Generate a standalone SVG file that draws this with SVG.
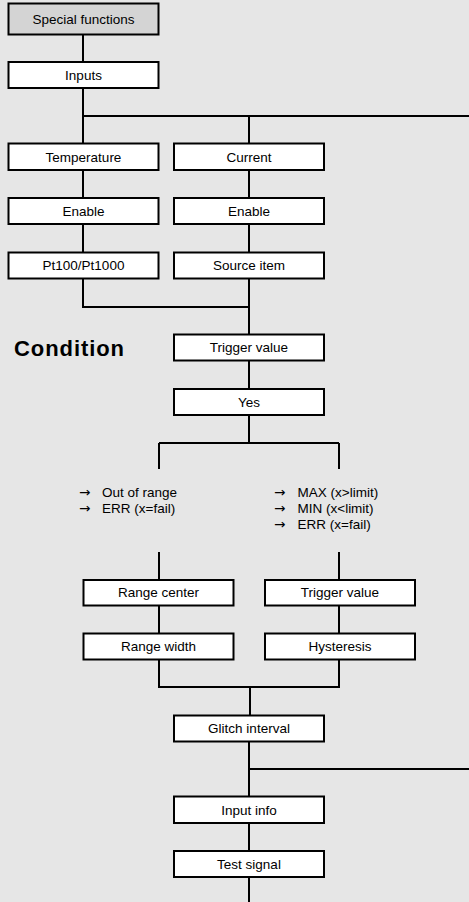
<svg xmlns="http://www.w3.org/2000/svg" width="469" height="902" viewBox="0 0 469 902">
<style>
.bg{fill:#e6e6e6}
.box rect{fill:#ffffff;stroke:#000000;stroke-width:2}
.box.gray rect{fill:#d4d4d4}
.box text,.lbl{font-family:"Liberation Sans",Arial,sans-serif;font-size:13.5px;fill:#000000}
.box text{text-anchor:middle}
.arr{font-family:"DejaVu Sans",sans-serif;font-size:13.5px;fill:#000000}
.cond{font-family:"Liberation Sans",Arial,sans-serif;font-size:22px;font-weight:bold;fill:#000000}
#connectors path{fill:none;stroke:#000000;stroke-width:2}
</style>
<rect class="bg" x="0" y="0" width="469" height="902"/>
<g id="connectors">
<path d="M83 35V143M83 116H469M249 116V143"/>
<path d="M83 170V198M83 224V252M83 278V307H249M249 170V198M249 224V252M249 278V334M249 360V389M249 415V443"/>
<path d="M159 443H339M159 443V469M339 443V469"/>
<path d="M159 552V580M339 552V580M159 606V633M339 606V633M159 659V687H339V659M250 687V715"/>
<path d="M249 741V797M248 769H469M249 823V851M249 877V902"/>
</g>
<g id="n-special" class="box gray"><rect x="8.5" y="3.5" width="150" height="31"/><text x="83.5" y="24">Special functions</text></g>
<g id="n-inputs" class="box"><rect x="8.5" y="62" width="150" height="26"/><text x="83.5" y="80">Inputs</text></g>
<g id="n-temperature" class="box"><rect x="8.5" y="143.5" width="150" height="26.5"/><text x="83.5" y="161.5">Temperature</text></g>
<g id="n-current" class="box"><rect x="174" y="143.5" width="150" height="26.5"/><text x="249" y="161.5">Current</text></g>
<g id="n-enable1" class="box"><rect x="8.5" y="198" width="150" height="26"/><text x="83.5" y="215.5">Enable</text></g>
<g id="n-enable2" class="box"><rect x="174" y="198" width="150" height="26"/><text x="249" y="215.5">Enable</text></g>
<g id="n-pt100" class="box"><rect x="8.5" y="252.5" width="150" height="26"/><text x="83.5" y="270">Pt100/Pt1000</text></g>
<g id="n-source" class="box"><rect x="174" y="252.5" width="150" height="26"/><text x="249" y="270">Source item</text></g>
<text id="t-condition" class="cond" x="14" y="356" textLength="110" lengthAdjust="spacing">Condition</text>
<g id="n-trigger1" class="box"><rect x="174" y="334.5" width="150" height="26"/><text x="249" y="352">Trigger value</text></g>
<g id="n-yes" class="box"><rect x="174" y="389" width="150" height="26"/><text x="249" y="406.5">Yes</text></g>
<g id="t-left">
<text class="arr" x="79" y="497">→</text><text class="lbl" x="102" y="497">Out of range</text>
<text class="arr" x="79" y="513">→</text><text class="lbl" x="102" y="513">ERR (x=fail)</text>
</g>
<g id="t-right">
<text class="arr" x="274" y="497">→</text><text class="lbl" x="297.5" y="497">MAX (x&gt;limit)</text>
<text class="arr" x="274" y="513">→</text><text class="lbl" x="297.5" y="513">MIN (x&lt;limit)</text>
<text class="arr" x="274" y="529">→</text><text class="lbl" x="297.5" y="529">ERR (x=fail)</text>
</g>
<g id="n-rangecenter" class="box"><rect x="83.5" y="580" width="150" height="25.5"/><text x="158.5" y="597">Range center</text></g>
<g id="n-trigger2" class="box"><rect x="265" y="580" width="150" height="25.5"/><text x="340" y="597">Trigger value</text></g>
<g id="n-rangewidth" class="box"><rect x="83.5" y="633.5" width="150" height="26"/><text x="158.5" y="651">Range width</text></g>
<g id="n-hysteresis" class="box"><rect x="265" y="633.5" width="150" height="26"/><text x="340" y="651">Hysteresis</text></g>
<g id="n-glitch" class="box"><rect x="174" y="715.5" width="150" height="26"/><text x="249" y="733">Glitch interval</text></g>
<g id="n-inputinfo" class="box"><rect x="174" y="796.5" width="150" height="26.5"/><text x="249" y="814.5">Input info</text></g>
<g id="n-testsignal" class="box"><rect x="174" y="851" width="150" height="26"/><text x="249" y="868.5">Test signal</text></g>
</svg>
